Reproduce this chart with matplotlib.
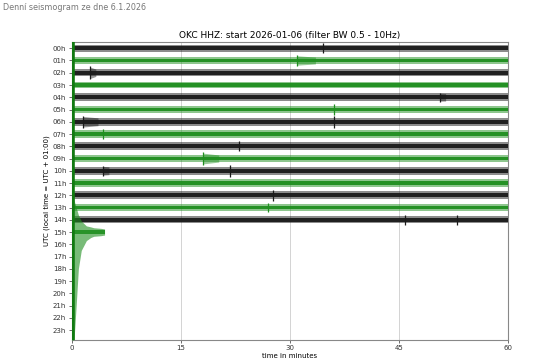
import numpy as np
import matplotlib
matplotlib.use('Agg')
from matplotlib import pyplot as plt

matplotlib.rcParams['font.family'] = 'DejaVu Sans'

# hour labels on y axis
hours = ['%02dh' % h for h in range(24)]
trace_colors = ['#1a1a1a', '#1f8f1f']

# full hours recorded (0..14), hour 15 only first minutes
full_hours = list(range(15))
noise_amp = [0.3, 0.28, 0.3, 0.27, 0.31, 0.29, 0.32, 0.31, 0.31, 0.29, 0.32, 0.29, 0.31, 0.29, 0.3]

# events: hour, minute, spike amplitude (in hours), coda duration (minutes)
ev_hour = [0, 1, 2, 4, 5, 6, 6, 7, 8, 9, 10, 10, 12, 13, 14, 14]
ev_min = [34.5, 31.0, 2.5, 50.6, 36.0, 1.6, 36.0, 4.3, 23.0, 18.0, 21.7, 4.3, 27.7, 27.0, 45.8, 53.0]
ev_amp = [0.4, 0.45, 0.55, 0.38, 0.42, 0.5, 0.48, 0.42, 0.4, 0.52, 0.5, 0.42, 0.46, 0.4, 0.42, 0.42]
ev_dur = [0, 2.5, 0.8, 0.8, 0, 2.0, 0, 0, 0, 2.2, 0, 0.8, 0, 0, 0, 0]

# hour 15: big transient at start, envelope (offset in hours)
h15_t = [0.0, 0.15, 0.3, 0.6, 0.9, 1.3, 2.0, 2.6, 3.0, 4.0, 4.5]
h15_up = [-15.6, -4.0, -2.6, -2.0, -1.4, -0.9, -0.5, -0.42, -0.35, -0.3, -0.25]
h15_lo = [9.0, 8.8, 8.8, 6.0, 3.0, 1.5, 0.7, 0.45, 0.35, 0.3, 0.25]

fig = plt.figure(figsize=(5.4, 3.6), dpi=100)
fig.text(0.006, 0.978, 'Denní seismogram ze dne 6.1.2026', fontsize=5.8, color='#777777', va='center')
ax = fig.add_axes([0.133, 0.056, 0.808, 0.827])

t = np.array([0, 60])
for h in full_hours:
    c = trace_colors[h % 2]
    a = noise_amp[h]
    ax.fill_between(t, h - a, h + a, color=c, alpha=0.5, lw=0, zorder=2)
    ax.fill_between(t, h - a * 0.5, h + a * 0.5, color=c, alpha=0.95, lw=0, zorder=3)

for h, m, a, d in zip(ev_hour, ev_min, ev_amp, ev_dur):
    c = trace_colors[h % 2]
    n = noise_amp[h]
    if d > 0:
        k = 0.85 * a
        ax.fill_between([m, m + d], [h - k, h - n], [h + k, h + n],
                        color=c, alpha=0.45, lw=0, zorder=4)
    ax.vlines(m, h - a, h + a, color=c, lw=0.9, zorder=5)

# hour 15 partial trace
ax.fill_between(h15_t, 15 + np.array(h15_up), 15 + np.array(h15_lo),
                color=trace_colors[1], alpha=0.6, lw=0, zorder=4)
ax.fill_between([0, 4.5], [15 - 0.15, 15 - 0.15], [15 + 0.15, 15 + 0.15],
                color=trace_colors[1], alpha=0.9, lw=0, zorder=4)
ax.plot([0.12, 0.12], [-0.5, 23.8], color='#117a11', lw=2.6, zorder=5)

ax.set_xlim(0, 60)
ax.set_ylim(23.8, -0.5)
ax.set_xticks([0, 15, 30, 45, 60])
ax.set_yticks(range(24))
ax.set_yticklabels(hours)
ax.tick_params(labelsize=5, length=2.5, width=0.6, color='#555555', labelcolor='#333333', pad=1.5)
ax.grid(axis='x', color='#cccccc', lw=0.6, zorder=0)
for s in ax.spines.values():
    s.set_color('#888888')
    s.set_linewidth(0.8)
ax.set_title('OKC HHZ: start 2026-01-06 (filter BW 0.5 - 10Hz)', fontsize=6.5, pad=3)
ax.set_xlabel('time in minutes', fontsize=5, labelpad=1)
ax.set_ylabel('UTC (local time = UTC + 01:00)', fontsize=5, labelpad=2)

fig.savefig('out.png', dpi=100)
